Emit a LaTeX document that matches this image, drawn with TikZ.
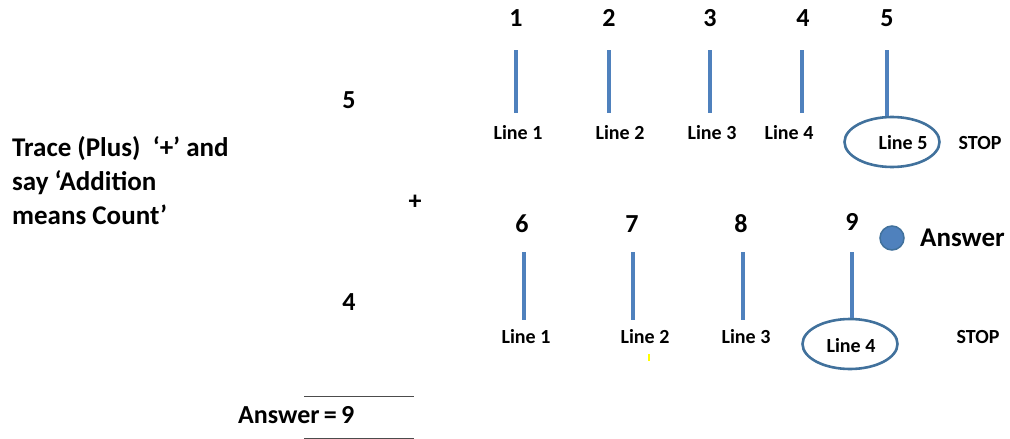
\documentclass[tikz,border=0pt]{standalone}
\usepackage{fontspec}
\setmainfont{Carlito}
\usetikzlibrary{shapes.geometric}
\definecolor{lineblue}{HTML}{4F81BD}
\definecolor{edgeblue}{HTML}{41719C}
\definecolor{marky}{HTML}{FFFF00}
\tikzset{
  num/.style={font=\bfseries\fontsize{26}{28}\selectfont, inner sep=0pt},
  lbl/.style={font=\bfseries\fontsize{20}{24}\selectfont, inner sep=0pt},
  stick/.style={draw=lineblue, line width=4pt},
  oval/.style={ellipse, draw=edgeblue, line width=2.6pt, minimum width=95pt, minimum height=50pt, inner sep=0pt},
  rule/.style={draw=black!70, line width=0.8pt}
}
\begin{document}
\begin{tikzpicture}[x=1pt,y=-1pt]
\useasboundingbox (0,0) rectangle (1010,439);
% left instruction
\node[anchor=north west, inner sep=0pt, align=left, font=\bfseries\fontsize{27}{34}\selectfont] (instr) at (12,136)
 {Trace (Plus)\ \ ‘+’ and\\say ‘Addition\\means Count’};
\node[num] (a5) at (349,100) {5};
\node[num] (plus) at (415,202) {+};
\node[num] (a4) at (349,302) {4};
% top row
\node[num] (n1) at (516,18) {1};
\node[num] (n2) at (609,18) {2};
\node[num] (n3) at (710,18) {3};
\node[num] (n4) at (803,18) {4};
\node[num] (n5) at (887,18) {5};
\coordinate (t1a) at (516,50); \coordinate (t1b) at (516,113);
\coordinate (t2a) at (609,50); \coordinate (t2b) at (609,113);
\coordinate (t3a) at (710,50); \coordinate (t3b) at (710,113);
\coordinate (t4a) at (802,50); \coordinate (t4b) at (802,113);
\coordinate (t5a) at (887,50);
\draw[stick] (t1a) -- (t1b);
\draw[stick] (t2a) -- (t2b);
\draw[stick] (t3a) -- (t3b);
\draw[stick] (t4a) -- (t4b);
\node[lbl] (l1) at (518,133) {Line 1};
\node[lbl] (l2) at (620,133) {Line 2};
\node[lbl] (l3) at (712,133) {Line 3};
\node[lbl] (l4) at (789,133) {Line 4};
\node[oval] (e5) at (892,142) {};
\node[lbl] (l5) at (903,143) {Line 5};
\draw[stick] (t5a) -- (e5.north -| t5a);
\node[lbl] (stop1) at (980,143) {STOP};
% bottom row
\node[num] (n6) at (522,224) {6};
\node[num] (n7) at (632,224) {7};
\node[num] (n8) at (741,224) {8};
\node[num] (n9) at (852,222) {9};
\coordinate (b1a) at (524,252); \coordinate (b1b) at (524,320);
\coordinate (b2a) at (633,252); \coordinate (b2b) at (633,320);
\coordinate (b3a) at (743,252); \coordinate (b3b) at (743,320);
\coordinate (b4a) at (852,252);
\draw[stick] (b1a) -- (b1b);
\draw[stick] (b2a) -- (b2b);
\draw[stick] (b3a) -- (b3b);
\node[lbl] (m1) at (526,337) {Line 1};
\node[lbl] (m2) at (645,337) {Line 2};
\node[lbl] (m3) at (746,337) {Line 3};
\node[oval] (e4) at (850,344) {};
\node[lbl] (m4) at (851,346) {Line 4};
\draw[stick] (b4a) -- (e4.north -| b4a);
\node[lbl] (stop2) at (978,337) {STOP};
\fill[marky] (648,354) rectangle (650,361);
% answer dot
\node[circle, fill=lineblue, draw=edgeblue, line width=1.5pt, minimum size=24pt, inner sep=0pt] (dot) at (892,238) {};
\node[font=\bfseries\fontsize{27}{30}\selectfont, inner sep=0pt, anchor=west] (ans) at (920,238) {Answer};
% answer with rules
\coordinate (r1a) at (304,396); \coordinate (r1b) at (414,396);
\coordinate (r2a) at (304,438); \coordinate (r2b) at (414,438);
\draw[rule] (r1a) -- (r1b);
\draw[rule] (r2a) -- (r2b);
\node[font=\bfseries\fontsize{26}{28}\selectfont, inner sep=0pt, anchor=west] (res) at (238,415) {Answer\,=\,9};
\end{tikzpicture}
\end{document}
